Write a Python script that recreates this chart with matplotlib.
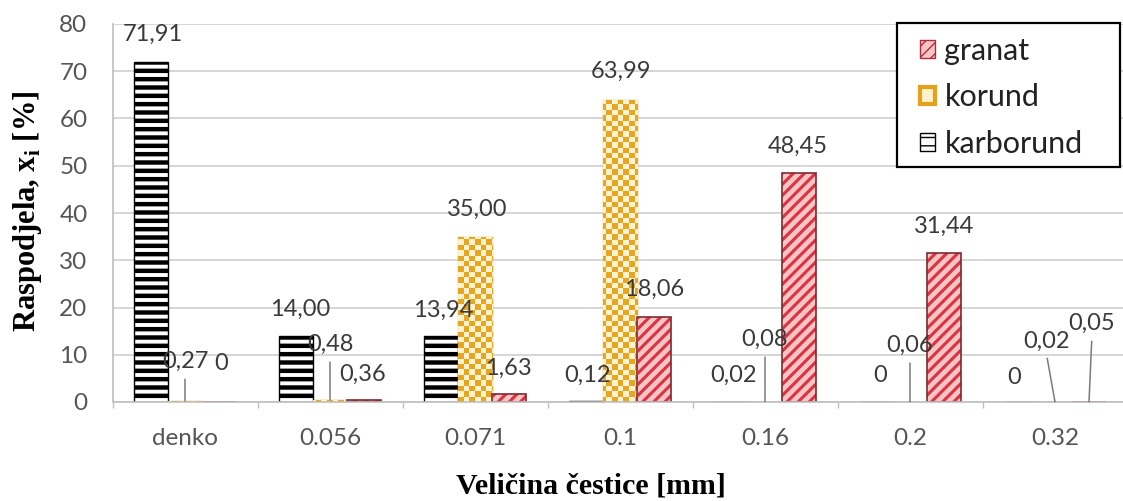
import numpy as np
import matplotlib
matplotlib.use("Agg")
import matplotlib.pyplot as plt
from matplotlib.colors import ListedColormap
from matplotlib.patches import Patch, Rectangle

# ---------------- data ----------------
categories = ["denko", "0.056", "0.071", "0.1", "0.16", "0.2", "0.32"]
karborund = [71.91, 14.00, 13.94, 0.12, 0.02, 0.0, 0.0]
korund = [0.27, 0.48, 35.00, 63.99, 0.08, 0.06, 0.02]
granat = [0.0, 0.36, 1.63, 18.06, 48.45, 31.44, 0.05]
y_ticks = [0, 10, 20, 30, 40, 50, 60, 70, 80]
legend_order = ["granat", "korund", "karborund"]
x_label = "Veličina čestice [mm]"
y_label = "Raspodjela, x$_{\\mathregular{i}}$ [%]"

# ---------------- layout / style ----------------
W, H = 1123, 501
SANS = ["Lato", "DejaVu Sans"]
SERIF = ["Liberation Serif", "DejaVu Serif"]
plt.rcParams["font.family"] = SANS

fig = plt.figure(figsize=(W / 100, H / 100), dpi=100)
ax = fig.add_axes([112.5 / W, (H - 402) / H, 1015 / W, 378 / H])

xpos = np.arange(len(categories))
bw = 0.2345

ax.set_axisbelow(True)
ax.yaxis.grid(True, color="#d3d3d3", lw=1.3, zorder=0)

# karborund: white with black horizontal stripes
with plt.rc_context({"hatch.linewidth": 3.2}):
    kb = ax.bar(xpos - bw, karborund, bw, facecolor="white", edgecolor="black",
                hatch="--", lw=1.0, zorder=2)
for p in kb:
    try:
        p.set_hatch_linewidth(3.2)
    except Exception:
        pass

# korund: yellow checker pattern
kr = ax.bar(xpos, korund, bw, facecolor="#E8A628", edgecolor="#E3A21A", lw=1.0, zorder=2)
nrows, ncols = 70, 185
checker = (np.add.outer(np.arange(nrows), np.arange(ncols)) % 2).astype(float)
ccmap = ListedColormap(["#E7A524", "#FFF3CF"])
for p in kr:
    im = ax.imshow(checker, extent=(0, 1, 0, 1), transform=ax.transAxes, cmap=ccmap,
                   interpolation="nearest", aspect="auto", zorder=2.1, vmin=0, vmax=1)
    im.set_clip_path(p)

# granat: pink with red diagonal stripes and dark red edge
with plt.rc_context({"hatch.linewidth": 2.2}):
    gb = ax.bar(xpos + bw, granat, bw, facecolor="#F8C4C6", edgecolor="#D9343F",
                hatch="///", lw=0, zorder=2)
for p in gb:
    try:
        p.set_hatch_linewidth(2.2)
    except Exception:
        pass
ax.bar(xpos + bw, granat, bw, facecolor="none", edgecolor="#7E2A30", lw=1.2, zorder=2.3)

ax.set_xlim(-0.5, 6.5)
ax.set_ylim(0, 80)

# ---------------- data labels ----------------
def fmt(v):
    return "0" if v == 0 else f"{v:.2f}".replace(".", ",")

# (dx, dy) in pixels from bar top-centre, leader flag
offsets = {
    ("karborund", 0): (2, 28, False), ("korund", 0): (0, 39, True), ("granat", 0): (2, 38, False),
    ("karborund", 1): (4, 27, False), ("korund", 1): (0, 55, True), ("granat", 1): (-1, 26, False),
    ("karborund", 2): (2, 26, False), ("korund", 2): (2, 27, False), ("granat", 2): (-1, 26, False),
    ("karborund", 3): (2, 26, False), ("korund", 3): (1, 28, False), ("granat", 3): (0, 27, False),
    ("karborund", 4): (3, 27, False), ("korund", 4): (0, 62, True), ("granat", 4): (-1, 27, False),
    ("karborund", 5): (4, 27, False), ("korund", 5): (0, 56, True), ("granat", 5): (0, 27, False),
    ("karborund", 6): (-7, 25, False), ("korund", 6): (-9, 61, True), ("granat", 6): (3, 78, True),
}
series = [("karborund", karborund, -bw), ("korund", korund, 0.0), ("granat", granat, bw)]
for name, vals, off in series:
    for i, v in enumerate(vals):
        dx, dy, leader = offsets[(name, i)]
        kw = {}
        if leader:
            kw["arrowprops"] = dict(arrowstyle="-", color="#7a7a7a", lw=1.1,
                                    relpos=(0.5, 0.0), shrinkA=3, shrinkB=0)
        ax.annotate(fmt(v), xy=(i + off, v), xytext=(dx, dy), textcoords="offset pixels",
                    ha="center", va="center", fontsize=17, color="#3a3a3a", zorder=5, **kw)

# ---------------- axes styling ----------------
ax.set_xticks(xpos, categories)
ax.set_xticks(np.arange(-0.5, 7.0, 1.0), minor=True)
ax.tick_params(axis="x", which="major", length=0, pad=19, labelsize=17.5, labelcolor="#555555")
ax.tick_params(axis="x", which="minor", length=4, width=1.0, color="#bfbfbf", direction="out")
ax.set_yticks(y_ticks)
ax.tick_params(axis="y", which="major", length=0, pad=18, labelsize=17.5, labelcolor="#555555")
for s in ("top", "right"):
    ax.spines[s].set_visible(False)
for s in ("left", "bottom"):
    ax.spines[s].set_color("#bfbfbf")
    ax.spines[s].set_linewidth(1.2)

fig.text(28 / W, 1 - 211 / H, y_label, rotation=90, ha="center", va="center",
         fontsize=22, fontweight="bold", family=SERIF, color="black")
fig.text(591 / W, 1 - 486 / H, x_label, ha="center", va="center",
         fontsize=21.5, fontweight="bold", family=SERIF, color="black")

# ---------------- legend ----------------
frame = Rectangle(((897 - 112.5) / 1015, (402 - 167) / 378), 223 / 1015, 144 / 378,
                  transform=ax.transAxes, facecolor="white", edgecolor="black", lw=1.6,
                  zorder=8, clip_on=False)
ax.add_patch(frame)
handles = {
    "granat": Patch(facecolor="#F8C4C6", edgecolor="#B02E38", hatch="///", lw=1.0),
    "korund": Patch(facecolor="#FFF2CC", edgecolor="#E3A21A", lw=3.0),
    "karborund": Patch(facecolor="white", edgecolor="black", hatch="--", lw=1.0),
}
leg = ax.legend([handles[n] for n in legend_order], legend_order,
                loc="upper left", bbox_to_anchor=((920 - 112.5) / 1015, (402 - 37) / 378),
                borderaxespad=0, borderpad=0, fontsize=22, handlelength=0.5,
                handleheight=0.5, handletextpad=0.3, labelspacing=0.6, frameon=False)
for t in leg.get_texts():
    t.set_color("#222222")
leg.set_zorder(10)

fig.savefig("out.png", dpi=100)
